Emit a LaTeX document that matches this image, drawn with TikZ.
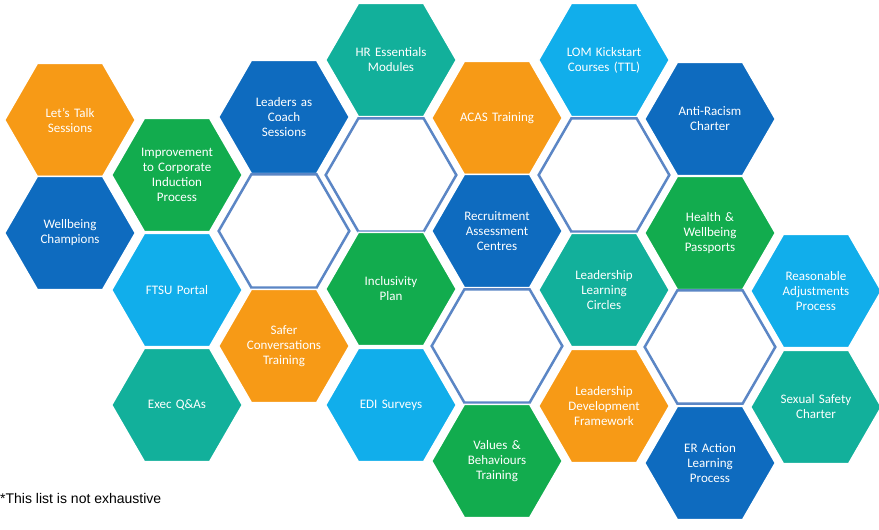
\documentclass[tikz,border=0pt]{standalone}
\usepackage{fontspec}
\setmainfont{Carlito}
\newfontfamily\notefont{Liberation Sans}
\usetikzlibrary{shapes.geometric}
\definecolor{hexOrange}{HTML}{F79A16}
\definecolor{hexDark}{HTML}{0E6BBF}
\definecolor{hexGreen}{HTML}{12AC4E}
\definecolor{hexLight}{HTML}{11AEEB}
\definecolor{hexTeal}{HTML}{12B09B}
\definecolor{hexEdge}{HTML}{5B86C5}
\tikzset{
	hexa/.style={regular polygon, regular polygon sides=6, minimum size=130pt, inner sep=0pt,
		draw=white, line width=1.5pt, text=white, align=center, text width=80pt,
		font=\fontsize{13}{15}\selectfont},
	hexempty/.style={hexa, draw=hexEdge, line width=2.5pt, fill=white}
}
\begin{document}
\begin{tikzpicture}[x=1pt, y=-1pt]
	\useasboundingbox (0,0) rectangle (879,530);

	% column 1
	\node[hexa, fill=hexOrange] (talk) at (70,120) {Let's Talk\\Sessions};
	\node[hexa, fill=hexDark] (champ) at (70,233) {Wellbeing\\Champions};
	% column 2
	\node[hexa, fill=hexGreen] (induct) at (177,175) {Improvement to Corporate Induction Process};
	\node[hexa, fill=hexLight] (ftsu) at (177,290) {FTSU Portal};
	\node[hexa, fill=hexTeal] (exec) at (177,405) {Exec Q\&As};
	% column 3
	\node[hexa, fill=hexDark] (coach) at (284,117) {Leaders as\\Coach\\Sessions};
	\node[hexempty] (e1) at (284,231) {};
	\node[hexa, fill=hexOrange] (safer) at (284,346) {Safer\\Conversations\\Training};
	% column 4
	\node[hexa, fill=hexTeal] (hress) at (391,60) {HR Essentials\\Modules};
	\node[hexempty] (e2) at (391,175) {};
	\node[hexa, fill=hexGreen] (incl) at (391,289) {Inclusivity\\Plan};
	\node[hexa, fill=hexLight] (edi) at (391,405) {EDI Surveys};
	% column 5
	\node[hexa, fill=hexOrange] (acas) at (497,118) {ACAS Training};
	\node[hexa, fill=hexDark] (recr) at (497,231) {Recruitment\\Assessment\\Centres};
	\node[hexempty] (e3) at (497,346) {};
	\node[hexa, fill=hexGreen] (values) at (497,461) {Values \&\\Behaviours\\Training};
	% column 6
	\node[hexa, fill=hexLight] (lom) at (604,60) {LOM Kickstart\\Courses (TTL)};
	\node[hexempty] (e4) at (604,175) {};
	\node[hexa, fill=hexTeal] (circles) at (604,290) {Leadership\\Learning\\Circles};
	\node[hexa, fill=hexOrange] (ldf) at (604,406) {Leadership\\Development\\Framework};
	% column 7
	\node[hexa, fill=hexDark] (racism) at (710,119) {Anti-Racism\\Charter};
	\node[hexa, fill=hexGreen] (health) at (710,233) {Health \&\\Wellbeing\\Passports};
	\node[hexempty] (e5) at (710,347) {};
	\node[hexa, fill=hexDark] (er) at (710,463) {ER Action\\Learning\\Process};
	% column 8
	\node[hexa, fill=hexLight] (adjust) at (816,291) {Reasonable\\Adjustments\\Process};
	\node[hexa, fill=hexTeal] (sexual) at (816,407) {Sexual Safety\\Charter};

	\node[anchor=west, inner sep=0pt, font=\notefont\fontsize{14}{16}\selectfont] (note) at (0,498) {*This list is not exhaustive};
\end{tikzpicture}
\end{document}
